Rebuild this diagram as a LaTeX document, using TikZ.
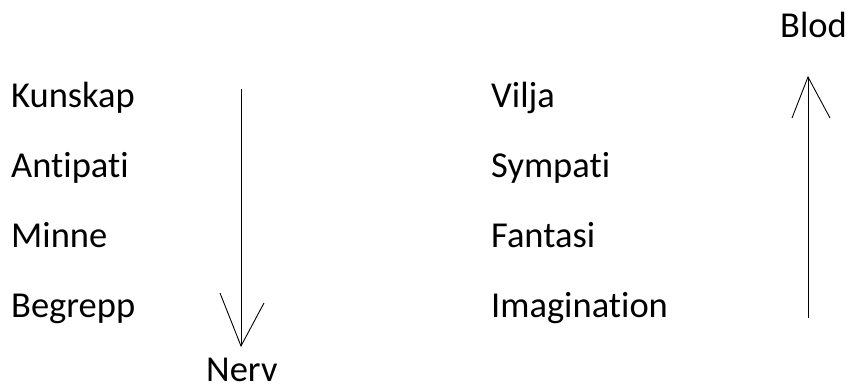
\documentclass[tikz,border=0pt]{standalone}
\usepackage{fontspec}
\setmainfont[Ligatures=NoCommon]{Carlito}

\begin{document}
\begin{tikzpicture}[x=1pt,y=-1pt]
\tikzset{word/.style={anchor=base west,inner sep=0,font=\fontsize{36.5}{44}\selectfont}}
\useasboundingbox (0,0) rectangle (849,389);
\node[word] (kunskap) at (11,107) {Kunskap};
\node[word] (antipati) at (11,177) {Antipati};
\node[word] (minne) at (11,247) {Minne};
\node[word] (begrepp) at (11,317) {Begrepp};
\node[word] (vilja) at (491,107) {Vilja};
\node[word] (sympati) at (491,177) {Sympati};
\node[word] (fantasi) at (491,247) {Fantasi};
\node[word] (imagination) at (491,317) {Imagination};
\node[word] (nerv) at (206,381) {Nerv};
\node[word] (blod) at (780,37) {Blod};
\coordinate (nervstart) at (241,89);
\coordinate (nervtip) at (241,346);
\draw[line width=0.9pt] (nervstart) -- (nervtip);
\draw[line width=0.9pt] (220,293) -- (nervtip) -- (264,303);
\coordinate (blodstart) at (808,318);
\coordinate (blodtip) at (808,77);
\draw[line width=0.9pt] (blodstart) -- (blodtip);
\draw[line width=0.9pt] (792,118) -- (blodtip) -- (830,118);
\end{tikzpicture}
\end{document}
